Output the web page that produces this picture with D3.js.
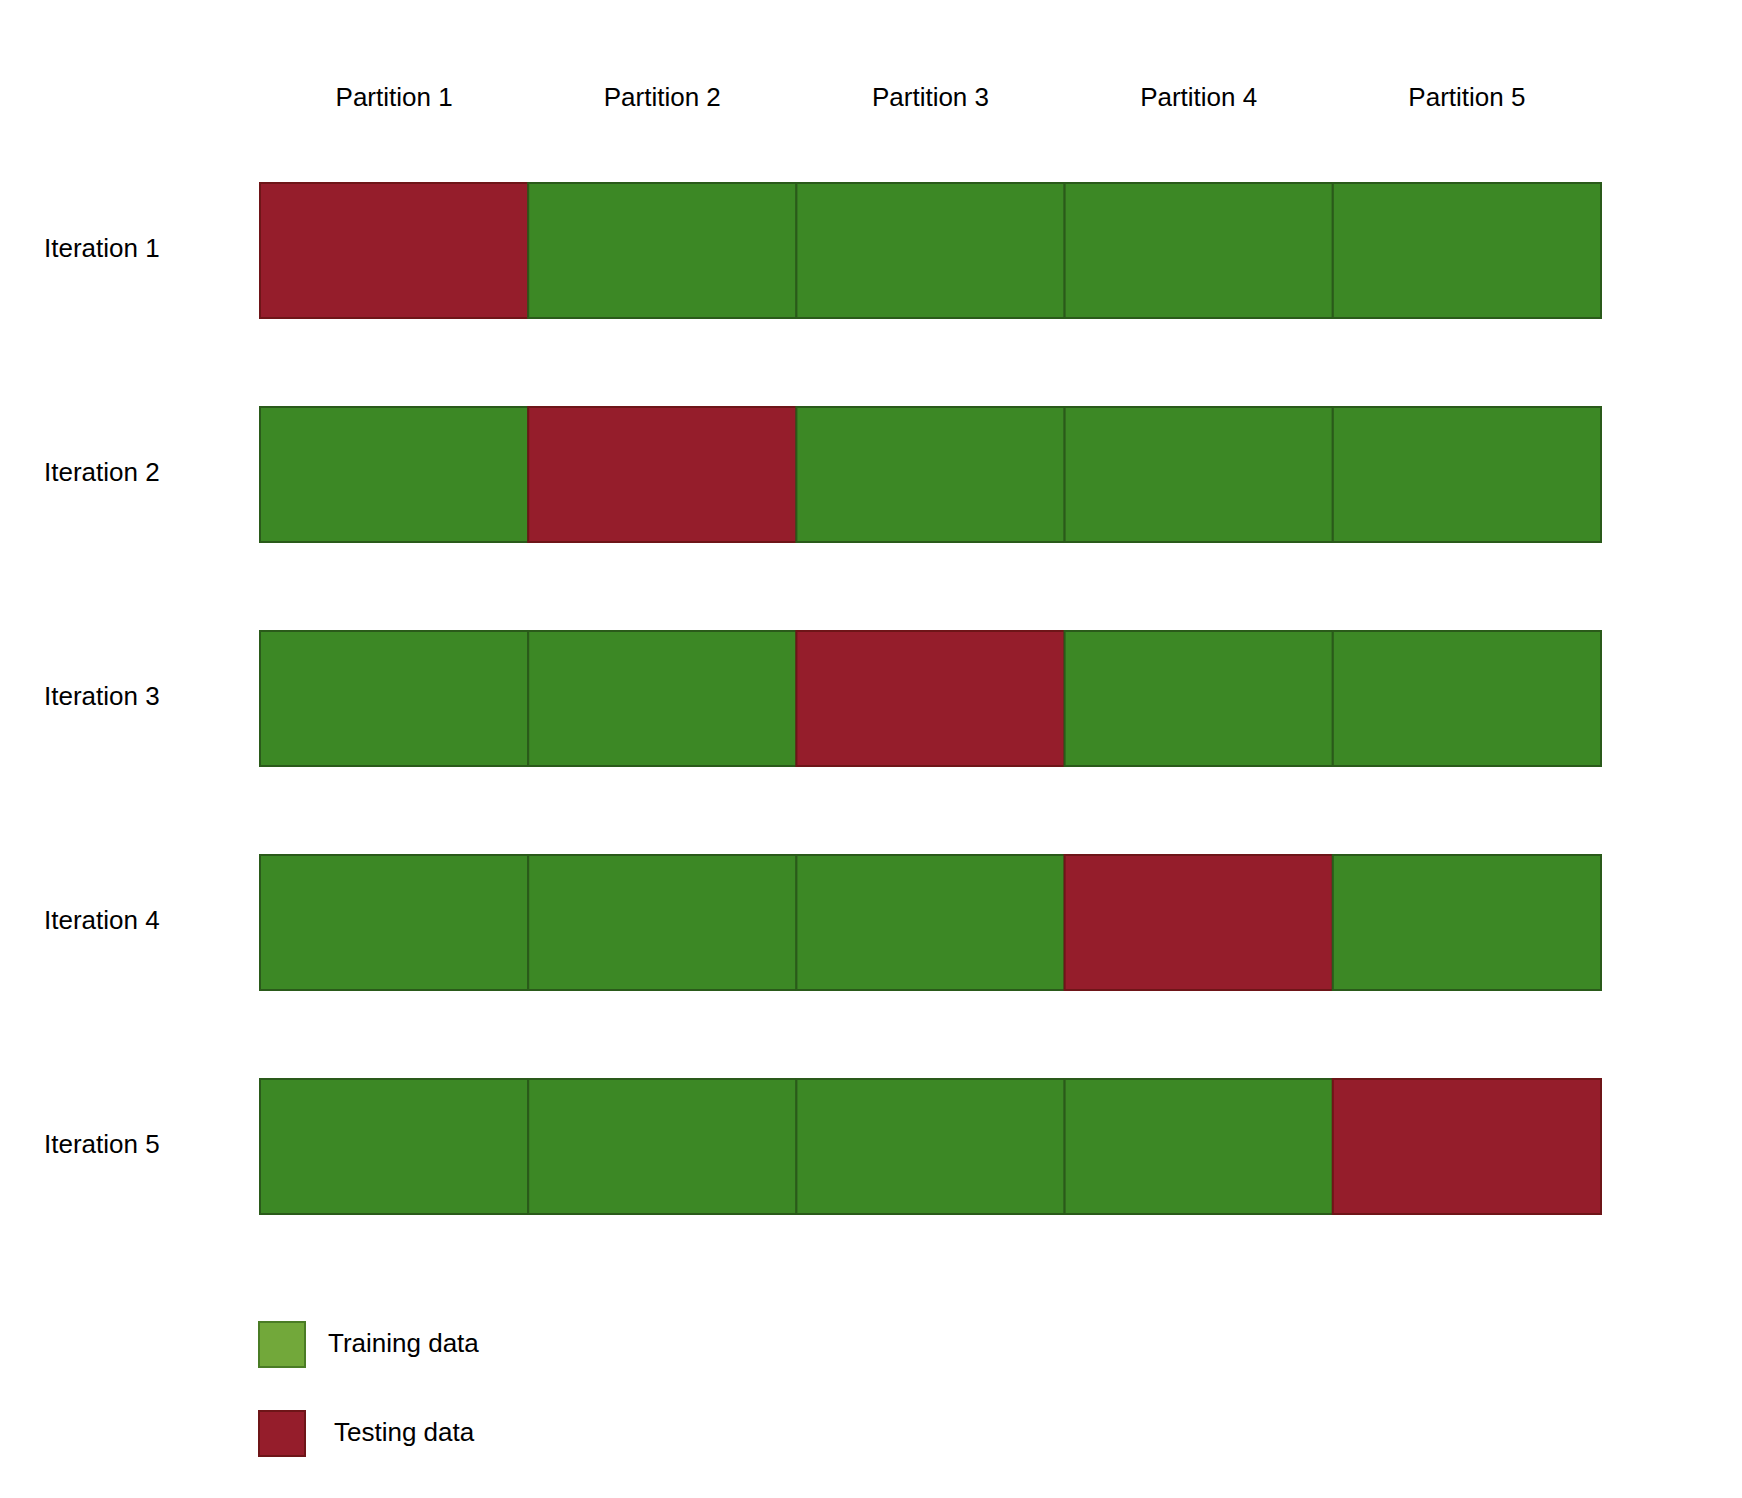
<!DOCTYPE html>
<html><head><meta charset="utf-8">
<script src="https://cdn.jsdelivr.net/npm/d3@7"></script>
<style>body{margin:0;background:#fff}text{font-family:Arial,"Liberation Sans",sans-serif;fill:#000}</style>
</head><body>
<script>
const partitions = ["Partition 1","Partition 2","Partition 3","Partition 4","Partition 5"];
const iterations = ["Iteration 1","Iteration 2","Iteration 3","Iteration 4","Iteration 5"];
const testIndex = [0,1,2,3,4];
const legendLabels = ["Training data","Testing data"];

const W=1742,H=1498;
const svg=d3.select("body").append("svg").attr("width",W).attr("height",H);
const x=d3.scaleBand().domain(partitions).range([260,1601]);
const y=d3.scaleBand().domain(iterations).range([183,1211+89]).paddingInner(89/224).paddingOuter(0);
// adjust so bandwidth ~135, step ~224
y.range([183,183+224*5-89]);

const cells=[];
iterations.forEach((it,i)=>partitions.forEach((p,j)=>cells.push({it,p,test:testIndex[i]===j})));
svg.selectAll("rect.cell").data(cells).join("rect").attr("class","cell")
 .attr("x",d=>x(d.p)).attr("y",d=>y(d.it)).attr("width",x.bandwidth()).attr("height",y.bandwidth())
 .attr("fill",d=>d.test?"#951d2b":"#3c8825").attr("stroke",d=>d.test?"#6e1518":"#2a5a1a").attr("stroke-width",2);

svg.selectAll("text.col").data(partitions).join("text").attr("class","col")
 .attr("x",d=>x(d)+x.bandwidth()/2).attr("y",99).attr("text-anchor","middle").attr("dominant-baseline","middle")
 .attr("font-size",26).text(d=>d);
svg.selectAll("text.row").data(iterations).join("text").attr("class","row")
 .attr("x",44).attr("y",d=>y(d)+y.bandwidth()/2).attr("dominant-baseline","middle")
 .attr("font-size",26).text(d=>d);

const lg=[{t:legendLabels[0],f:"#72a83a",s:"#4a7c25",y:1322,tx:328},{t:legendLabels[1],f:"#951d2b",s:"#6e1518",y:1411,tx:334}];
svg.selectAll("rect.lg").data(lg).join("rect").attr("class","lg").attr("x",259).attr("y",d=>d.y).attr("width",46).attr("height",45)
 .attr("fill",d=>d.f).attr("stroke",d=>d.s).attr("stroke-width",2);
svg.selectAll("text.lg").data(lg).join("text").attr("class","lg").attr("x",d=>d.tx).attr("y",d=>d.y+23)
 .attr("dominant-baseline","middle").attr("font-size",26).text(d=>d.t);
</script></body></html>
